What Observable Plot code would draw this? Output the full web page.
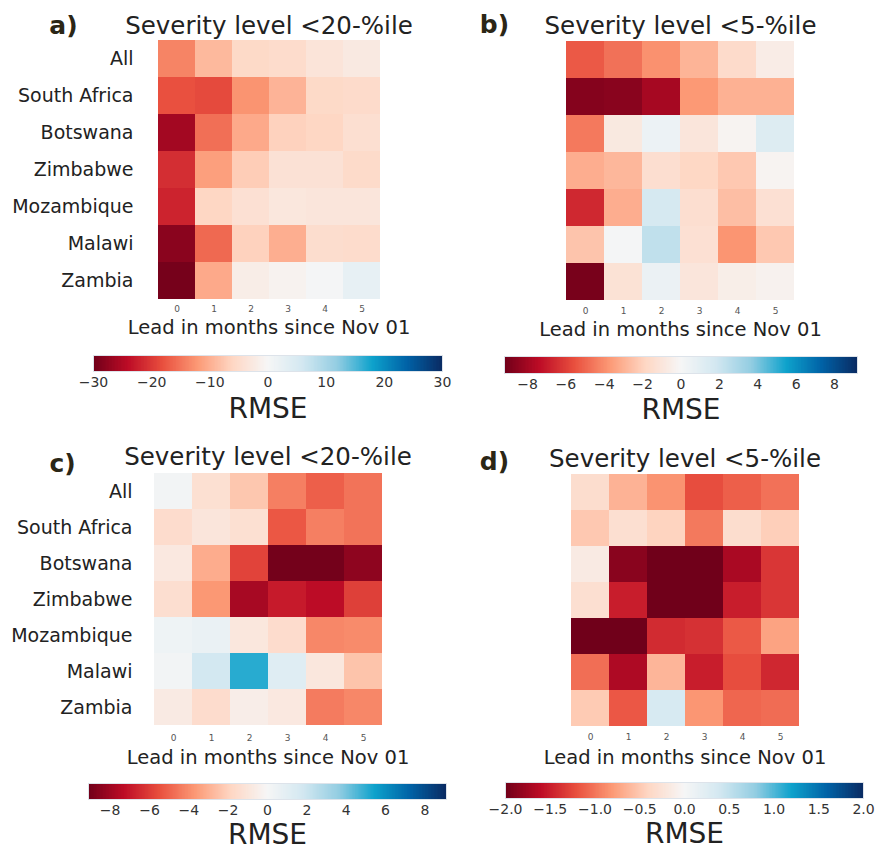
<!DOCTYPE html>
<html>
<head>
<meta charset="utf-8">
<script src="https://cdn.jsdelivr.net/npm/d3@7"></script>
<script src="https://cdn.jsdelivr.net/npm/@observablehq/plot@0.6"></script>
<style>
  body { margin: 0; background: #fff; font-family: "DejaVu Sans", sans-serif; }
  #root { position: relative; width: 889px; height: 850px; overflow: hidden; background: #fff; }
  #root > div { position: absolute; }
  #root svg { overflow: visible; background: transparent; }
</style>
</head>
<body>
<div id="root"></div>
<script>
// ---------------- data ----------------
const countries = ["All", "South Africa", "Botswana", "Zimbabwe", "Mozambique", "Malawi", "Zambia"];
const leads = [0, 1, 2, 3, 4, 5];

// rows follow `countries`, columns follow `leads`
const panelA = [
  [-13.8, -9.0, -5.5, -5.0, -3.5, -2.5],
  [-18.0, -18.5, -12.5, -9.5, -5.5, -5.2],
  [-26.0, -15.5, -10.5, -6.5, -6.0, -4.5],
  [-21.0, -11.5, -7.0, -4.0, -4.0, -5.3],
  [-22.0, -6.0, -4.2, -3.0, -3.2, -3.2],
  [-28.0, -16.0, -6.5, -10.0, -4.8, -5.0],
  [-29.5, -10.5, -1.8, -0.8, 0.3, 2.5]
];
const panelB = [
  [-5.3, -4.7, -3.9, -2.9, -1.6, -0.6],
  [-8.7, -8.6, -7.9, -3.7, -3.0, -3.0],
  [-4.5, -0.8, 0.5, -1.0, -0.2, 1.3],
  [-3.1, -2.8, -1.4, -1.8, -2.3, -0.2],
  [-6.6, -3.1, 1.7, -1.4, -2.6, -1.3],
  [-2.4, 0.1, 2.4, -1.3, -3.8, -2.3],
  [-9.0, -1.2, 0.6, -1.0, -0.5, -0.3]
];
const panelC = [
  [0.2, -1.3, -2.3, -4.3, -5.1, -4.6],
  [-1.5, -1.0, -1.3, -5.3, -4.3, -4.6],
  [-0.8, -3.1, -5.8, -9.0, -9.0, -8.4],
  [-1.4, -3.7, -7.8, -6.9, -7.3, -5.9],
  [0.4, 0.6, -0.9, -1.5, -4.1, -4.0],
  [0.2, 1.8, 5.1, 1.2, -0.9, -2.4],
  [-0.7, -1.5, -0.5, -0.8, -4.4, -4.1]
];
const panelD = [
  [-0.32, -0.64, -0.84, -1.22, -1.12, -1.02],
  [-0.50, -0.30, -0.42, -0.98, -0.32, -0.45],
  [-0.15, -1.87, -2.00, -2.00, -1.70, -1.35],
  [-0.30, -1.50, -2.00, -2.00, -1.50, -1.35],
  [-2.00, -2.00, -1.42, -1.38, -1.15, -0.74],
  [-1.04, -1.68, -0.62, -1.50, -1.22, -1.44],
  [-0.48, -1.16, 0.35, -0.82, -1.08, -1.05]
];

const titles = ["Severity level <20-%ile", "Severity level <5-%ile", "Severity level <20-%ile", "Severity level <5-%ile"];
const letters = ["a)", "b)", "c)", "d)"];
const xLabel = "Lead in months since Nov 01";
const barLabel = "RMSE";
const limits = [30, 9.2, 9.1, 2.0];
const ticksA = [-30, -20, -10, 0, 10, 20, 30];
const ticksB = [-8, -6, -4, -2, 0, 2, 4, 6, 8];
const ticksC = [-8, -6, -4, -2, 0, 2, 4, 6, 8];
const ticksD = [-2.0, -1.5, -1.0, -0.5, 0.0, 0.5, 1.0, 1.5, 2.0];

// colormap (red-blue diverging, as seen in the figure)
const cmapStops = ["#70001a", "#bd0c26", "#e9503f", "#fc9a76", "#fed7c4", "#f6f6f6",
                   "#d3e8f1", "#93cde2", "#0ea2cc", "#0162a6", "#0a2b63"];
const cmap = d3.piecewise(d3.interpolateRgb, cmapStops);

const FONT = "DejaVu Sans";
const root = document.getElementById("root");

function place(node, left, top) {
  const div = document.createElement("div");
  div.style.left = left + "px";
  div.style.top = top + "px";
  div.appendChild(node);
  root.appendChild(div);
}

function toCells(matrix) {
  return countries.flatMap((c, i) => leads.map((l, j) => ({country: c, lead: l, value: matrix[i][j]})));
}

function heatmap(o) {
  const data = toCells(o.values);
  return Plot.plot({
    width: o.width, height: o.height,
    marginLeft: o.ml, marginRight: o.mr, marginTop: o.mt, marginBottom: o.mb,
    style: {background: "transparent", fontFamily: FONT, color: "#222", overflow: "visible"},
    x: {type: "band", domain: leads, padding: 0, axis: null},
    y: {type: "band", domain: countries, padding: 0, axis: null},
    color: {type: "linear", domain: [-o.max, o.max], interpolate: cmap, clamp: true},
    marks: [
      Plot.cell(data, {x: "lead", y: "country", fill: "value", inset: 0}),
      Plot.axisX({tickSize: 0, tickPadding: o.xpad, fontSize: 9, fill: "#555", label: null}),
      o.showY ? Plot.axisY({tickSize: 0, tickPadding: o.ypad, fontSize: 19, fill: "#222", label: null}) : null,
      Plot.text([o.title], {text: d => d, frameAnchor: "top", textAnchor: "middle", lineAnchor: "middle",
        dy: o.tdy, fontSize: 24.5, fill: "#222"}),
      Plot.text([o.letter], {text: d => d, frameAnchor: "top-left", textAnchor: "middle", lineAnchor: "middle",
        dx: o.ldx, dy: o.ldy, fontSize: 25, fontWeight: "bold", fill: "#2b2616"}),
      Plot.text([xLabel], {text: d => d, frameAnchor: "bottom", textAnchor: "middle", lineAnchor: "middle",
        dy: o.xldy, fontSize: 19.5, fill: "#222"})
    ]
  });
}

function colorbar(o) {
  const n = 240;
  const step = (2 * o.max) / n;
  const steps = d3.range(n).map(i => {
    const a = -o.max + i * step;
    return {a, b: Math.min(o.max, a + step * 1.6), v: a + step / 2};
  });
  return Plot.plot({
    width: o.width, height: o.height,
    marginLeft: o.ml, marginRight: o.mr, marginTop: o.mt, marginBottom: o.mb,
    style: {background: "transparent", fontFamily: FONT, color: "#222", overflow: "visible"},
    x: {type: "linear", domain: [-o.max, o.max], axis: null},
    y: {type: "linear", domain: [0, 1], axis: null},
    color: {type: "linear", domain: [-o.max, o.max], interpolate: cmap, clamp: true},
    marks: [
      Plot.rect(steps, {x1: "a", x2: "b", y1: 0, y2: 1, fill: "v"}),
      Plot.frame({stroke: "#dde3ea", strokeWidth: 1}),
      Plot.axisX({ticks: o.ticks, tickSize: 0, tickPadding: o.tpad, fontSize: 14, fill: "#333",
        tickFormat: o.fmt, label: null}),
      Plot.text([barLabel], {text: d => d, frameAnchor: "bottom", textAnchor: "middle", lineAnchor: "middle",
        dy: o.rdy, fontSize: 28, fill: "#222"})
    ]
  });
}

// ---------------- panels ----------------
place(heatmap({values: panelA, max: limits[0], title: titles[0], letter: letters[0], showY: true,
  width: 445, height: 340, ml: 155, mr: 63, mt: 40, mb: 41,
  xpad: 6, ypad: 22, tdy: -14, ldx: -92, ldy: -15, xldy: 28}), 0, 0);

place(heatmap({values: panelB, max: limits[1], title: titles[1], letter: letters[1], showY: false,
  width: 444, height: 340, ml: 120, mr: 94, mt: 40, mb: 40,
  xpad: 7, ypad: 22, tdy: -14, ldx: -71, ldy: -16, xldy: 29}), 445, 0);

place(heatmap({values: panelC, max: limits[2], title: titles[2], letter: letters[2], showY: true,
  width: 445, height: 350, ml: 151, mr: 61, mt: 50, mb: 43,
  xpad: 7, ypad: 19, tdy: -13, ldx: -89, ldy: -7, xldy: 30}), 0, 420);

place(heatmap({values: panelD, max: limits[3], title: titles[3], letter: letters[3], showY: false,
  width: 444, height: 350, ml: 123, mr: 88, mt: 52, mb: 43,
  xpad: 6, ypad: 22, tdy: -13, ldx: -74, ldy: -11, xldy: 30}), 445, 420);

// ---------------- colorbars ----------------
place(colorbar({max: limits[0], ticks: ticksA, fmt: d3.format("d"),
  width: 445, height: 80, ml: 93, mr: 3, mt: 15, mb: 49, tpad: 6, rdy: 38}), 0, 340);

place(colorbar({max: limits[1], ticks: ticksB, fmt: d3.format("d"),
  width: 444, height: 80, ml: 59, mr: 32, mt: 16, mb: 47, tpad: 6, rdy: 37}), 445, 340);

place(colorbar({max: limits[2], ticks: ticksC, fmt: d3.format("d"),
  width: 450, height: 80, ml: 88, mr: 4, mt: 13, mb: 51, tpad: 6, rdy: 36}), 0, 770);

place(colorbar({max: limits[3], ticks: ticksD, fmt: d3.format(".1f"),
  width: 444, height: 80, ml: 60, mr: 26, mt: 12, mb: 52, tpad: 6, rdy: 36}), 445, 770);
</script>
</body>
</html>
